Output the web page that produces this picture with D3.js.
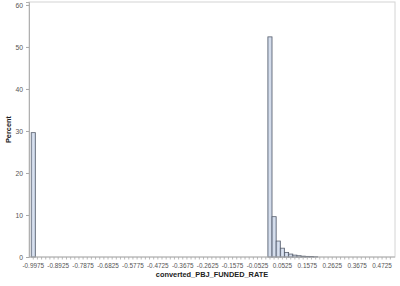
<!DOCTYPE html>
<html>
<head>
<meta charset="utf-8">
<script src="https://cdn.jsdelivr.net/npm/d3@7"></script>
<style>
  body { margin: 0; background: #fff; }
  svg { display: block; font-family: "Liberation Sans", Arial, sans-serif; }
</style>
</head>
<body>
<svg id="chart" width="400" height="286"></svg>
<script>
// histogram bins (midpoints) and percent of observations
const binMids = [-0.9975, 0, 0.0175, 0.035, 0.0525, 0.07, 0.0875, 0.105, 0.1225, 0.14, 0.1575, 0.175, 0.1925];
const percents = [29.6, 52.4, 9.6, 3.8, 2.1, 1.1, 0.7, 0.45, 0.3, 0.2, 0.15, 0.1, 0.06];
const xTickLabels = ['-0.9975', '-0.8925', '-0.7875', '-0.6825', '-0.5775', '-0.4725', '-0.3675',
    '-0.2625', '-0.1575', '-0.0525', '0.0525', '0.1575', '0.2625', '0.3675', '0.4725'];
const yTicks = [0, 10, 20, 30, 40, 50, 60];
const binWidth = 0.0175;

const svg = d3.select('#chart');
const plot = { left: 29, right: 395, top: 2, bottom: 257 };

const x = d3.scaleLinear().domain([-1.0155, 0.527]).range([plot.left, plot.right]);
const y = d3.scaleLinear().domain([0, 60.7]).range([plot.bottom, plot.top]);

// bar gradient
const grad = svg.append('defs').append('linearGradient').attr('id', 'barFill');
grad.append('stop').attr('offset', '0%').attr('stop-color', '#b9c6dc');
grad.append('stop').attr('offset', '50%').attr('stop-color', '#dde4f0');
grad.append('stop').attr('offset', '100%').attr('stop-color', '#b9c6dc');

// frame
svg.append('rect')
    .attr('x', plot.left).attr('y', plot.top)
    .attr('width', plot.right - plot.left).attr('height', plot.bottom - plot.top)
    .attr('fill', 'none').attr('stroke', '#d4d4d4');

// bars
svg.append('g').selectAll('rect')
    .data(binMids.map((m, i) => ({ m, v: percents[i] })))
    .join('rect')
    .attr('x', d => x(d.m - binWidth / 2))
    .attr('width', d => x(d.m + binWidth / 2) - x(d.m - binWidth / 2))
    .attr('y', d => y(d.v))
    .attr('height', d => y(0) - y(d.v))
    .attr('fill', 'url(#barFill)')
    .attr('stroke', '#59606e')
    .attr('stroke-width', 0.8);

// x axis: minor ticks every bin, labels every 6th bin
const allTicks = d3.range(0, 87).map(k => -0.9975 + k * binWidth);
const xAxis = svg.append('g').attr('transform', `translate(0,${plot.bottom})`);
xAxis.append('line')
    .attr('x1', plot.left).attr('x2', plot.right)
    .attr('stroke', '#b0b0b0');
xAxis.selectAll('line.tick')
    .data(allTicks)
    .join('line').attr('class', 'tick')
    .attr('x1', d => x(d)).attr('x2', d => x(d))
    .attr('y1', 0).attr('y2', 2.5)
    .attr('stroke', '#a8a8a8').attr('stroke-width', 0.8);
xAxis.selectAll('text')
    .data(xTickLabels)
    .join('text')
    .attr('x', d => x(+d)).attr('y', 10.5)
    .attr('text-anchor', 'middle')
    .attr('font-size', 6.4)
    .attr('fill', '#555')
    .text(d => d);

// y axis
const yAxis = svg.append('g').attr('transform', `translate(${plot.left},0)`)
    .call(d3.axisLeft(y).tickValues(yTicks).tickSize(3).tickPadding(3));
yAxis.select('.domain').attr('stroke', '#b0b0b0');
yAxis.selectAll('.tick line').attr('stroke', '#a8a8a8');
yAxis.selectAll('.tick text').attr('font-size', 6.8).attr('fill', '#555')
    .attr('font-family', '"Liberation Sans", Arial, sans-serif');

// axis titles
svg.append('text')
    .attr('x', (plot.left + plot.right) / 2).attr('y', 277)
    .attr('text-anchor', 'middle')
    .attr('font-size', 7.4).attr('font-weight', 'bold').attr('fill', '#222')
    .text('converted_PBJ_FUNDED_RATE');
svg.append('text')
    .attr('transform', `translate(11,${(plot.top + plot.bottom) / 2}) rotate(-90)`)
    .attr('text-anchor', 'middle')
    .attr('font-size', 7.4).attr('font-weight', 'bold').attr('fill', '#222')
    .text('Percent');
</script>
</body>
</html>
